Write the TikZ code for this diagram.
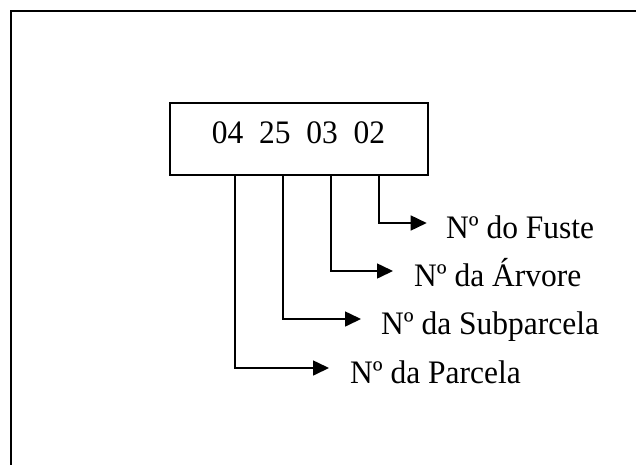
\documentclass[tikz,border=0pt]{standalone}
\usepackage{fontspec}
\setmainfont{Liberation Serif}[FakeStretch=0.96]
\usetikzlibrary{arrows.meta}
\begin{document}
\begin{tikzpicture}[x=1pt,y=-1pt,
  lbl/.style={anchor=base west,inner sep=0pt,font=\fontsize{32.8}{38}\selectfont},
  conn/.style={line width=1.6pt,-{Triangle[length=16pt,width=15pt]}},
  frame/.style={line width=2pt}]
\useasboundingbox (0,0) rectangle (636,464);
\draw[frame] (11,470) -- (11,11) -- (642,11);
\node[draw,line width=2pt,minimum width=258pt,minimum height=72pt,inner sep=0pt] (box) at (299,139) {};
\node[inner sep=0pt,font=\fontsize{32.8}{38}\selectfont] (code) at (298.5,132.8) {04\ \ 25\ \ 03\ \ 02};
\coordinate (s1) at (379,175);
\coordinate (s2) at (331,175);
\coordinate (s3) at (283,175);
\coordinate (s4) at (235,175);
\node[lbl] (l1) at (446,238.3) {Nº do Fuste};
\node[lbl] (l2) at (414,286.5) {Nº da Árvore};
\node[lbl] (l3) at (381,334.5) {Nº da Subparcela};
\node[lbl] (l4) at (350,383) {Nº da Parcela};
\coordinate (t1) at (426.7,223);
\coordinate (t2) at (393,271);
\coordinate (t3) at (361,319);
\coordinate (t4) at (329,368);
\draw[conn] (s1) |- (t1);
\draw[conn] (s2) |- (t2);
\draw[conn] (s3) |- (t3);
\draw[conn] (s4) |- (t4);
\end{tikzpicture}
\end{document}
